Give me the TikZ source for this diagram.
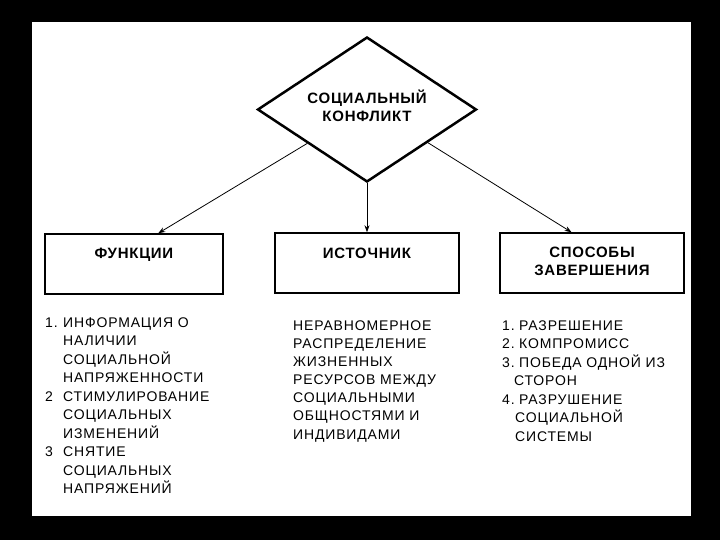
\documentclass[tikz,border=0pt]{standalone}
\usepackage{fontspec}
\setmainfont{Liberation Sans}
\newfontfamily\listfont[LetterSpace=6]{Liberation Sans}
\newfontfamily\headfont[LetterSpace=5]{Liberation Sans}
\usetikzlibrary{shapes.geometric,arrows.meta,calc}
\tikzset{
  lst/.style={font=\listfont\fontsize{14}{17}\selectfont, inner sep=0pt, anchor=base west},
  head/.style={font=\headfont\bfseries\fontsize{15}{18}\selectfont, inner sep=0pt, anchor=base},
  box/.style={draw, line width=1.4pt, minimum height=60pt, inner sep=0pt},
  conn/.style={-{Stealth[length=7pt,width=5pt]}, line width=0.8pt}
}
\begin{document}
\begin{tikzpicture}[x=1pt,y=-1pt]
\useasboundingbox (0,0) rectangle (720,540);
\fill[black] (0,0) rectangle (720,540);
\fill[white] (32,22) rectangle (691,516);

% diamond
\node[diamond, draw, line width=2.5pt, minimum width=219pt, minimum height=145pt, inner sep=0pt] (d) at (367,109.5) {};
\node[head] (dt1) at (367,104) {СОЦИАЛЬНЫЙ};
\node[head] (dt2) at (367,122) {КОНФЛИКТ};

% boxes
\node[box, minimum width=178pt] (f) at (134,264) {};
\node[box, minimum width=184pt] (i) at (367,263) {};
\node[box, minimum width=184pt] (s) at (592,263) {};

\node[head] (ft) at (134,258.5) {ФУНКЦИИ};
\node[head] (it) at (367,258.5) {ИСТОЧНИК};
\node[head] (st1) at (592,257.5) {СПОСОБЫ};
\node[head] (st2) at (592,275.5) {ЗАВЕРШЕНИЯ};

% connectors
\draw[conn] ($(d.west)!0.46!(d.south)$) -- ($(f.north west)!0.635!(f.north east)$);
\draw[conn] (d.south) -- (i.north);
\draw[conn] ($(d.east)!0.45!(d.south)$) -- ($(s.north west)!0.39!(s.north east)$);

% left list
\node[lst] (fn1) at (45,327) {1.};
\node[lst] (fn2) at (45,{327+18.55*4}) {2};
\node[lst] (fn3) at (45,{327+18.55*7}) {3};
\foreach \t [count=\k from 0] in {ИНФОРМАЦИЯ О, НАЛИЧИИ, СОЦИАЛЬНОЙ, НАПРЯЖЕННОСТИ, СТИМУЛИРОВАНИЕ, СОЦИАЛЬНЫХ, ИЗМЕНЕНИЙ, СНЯТИЕ, СОЦИАЛЬНЫХ, НАПРЯЖЕНИЙ}
  \node[lst] (fl\k) at (63,{327+18.55*\k}) {\t};

% middle list
\foreach \t [count=\k from 0] in {НЕРАВНОМЕРНОЕ, РАСПРЕДЕЛЕНИЕ, ЖИЗНЕННЫХ, РЕСУРСОВ МЕЖДУ, СОЦИАЛЬНЫМИ, ОБЩНОСТЯМИ И, ИНДИВИДАМИ}
  \node[lst] (il\k) at (293,{330+18.17*\k}) {\t};

% right list
\node[lst] (sn1) at (502,330) {1.};
\node[lst] (sn2) at (502,{330+18.5}) {2.};
\node[lst] (sn3) at (502,{330+18.5*2}) {3.};
\node[lst] (sn4) at (502,{330+18.5*4}) {4.};
\node[lst] (sl0) at (519,330) {РАЗРЕШЕНИЕ};
\node[lst] (sl1) at (519,{330+18.5}) {КОМПРОМИСС};
\node[lst] (sl2) at (519,{330+18.5*2}) {ПОБЕДА ОДНОЙ ИЗ};
\node[lst] (sl3) at (514,{330+18.5*3}) {СТОРОН};
\node[lst] (sl4) at (519,{330+18.5*4}) {РАЗРУШЕНИЕ};
\node[lst] (sl5) at (515,{330+18.5*5}) {СОЦИАЛЬНОЙ};
\node[lst] (sl6) at (515,{330+18.5*6}) {СИСТЕМЫ};
\end{tikzpicture}
\end{document}
